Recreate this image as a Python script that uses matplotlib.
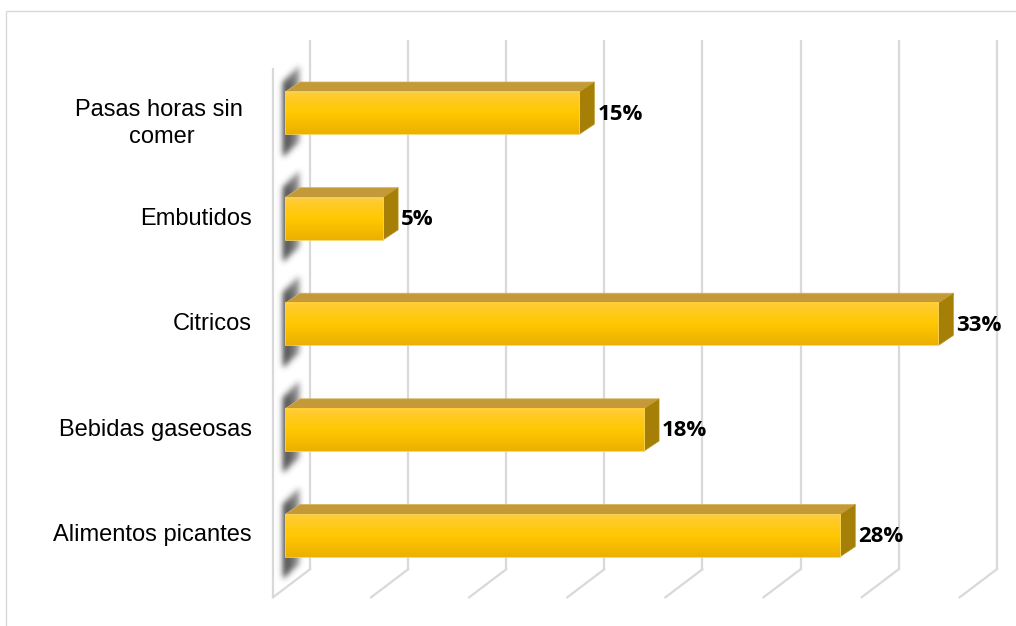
import numpy as np
import matplotlib
matplotlib.use('Agg')
import matplotlib.pyplot as plt
from matplotlib.patches import Polygon, Rectangle
from matplotlib.colors import LinearSegmentedColormap

# Categories bottom to top, shares in percent (labels show them rounded)
categories = ['Alimentos picantes', 'Bebidas gaseosas', 'Citricos', 'Embutidos', 'Pasas horas sin \ncomer']
values = [28.3, 18.3, 33.3, 5.0, 15.0]
xmax = 35
xticks = [0, 5, 10, 15, 20, 25, 30, 35]

W, H = 1016, 626
fig = plt.figure(figsize=(W / 100, H / 100), dpi=100)

# outer chart frame (light gray)
fig.patches.append(Rectangle((6 / W, -0.05), 1.2, (H - 11) / H + 0.05, transform=fig.transFigure,
                             fill=False, ec='#d9d9d9', lw=1.0))

# axes = plane of the bar fronts
ax_l, ax_r = 285, 971.7
ax_t, ax_b = 60.3, 588.3
ax = fig.add_axes([ax_l / W, (H - ax_b) / H, (ax_r - ax_l) / W, (ax_b - ax_t) / H])
ax.set_xlim(0, xmax)
ax.set_ylim(-0.5, len(categories) - 0.5)
ax.axis('off')

# pixel -> data units
sx = xmax / (ax_r - ax_l)
sy = len(categories) / (ax_b - ax_t)


def off(x, y, dx, dy):
    return (x + dx * sx, y + dy * sy)


back = (25, 19)     # back wall
front = (-12, -9)   # front edge of the floor
depth = (15, 10)    # bar depth
grid_c = '#d9d9d9'
y0, y1 = -0.5, len(categories) - 0.5

# back wall gridlines and floor lines
for v in xticks:
    bx0 = off(v, y0, *back)
    bx1 = off(v, y1, *back)
    fx = off(v, y0, *front)
    ax.plot([bx0[0], bx1[0]], [bx0[1], bx1[1]], color=grid_c, lw=1.6, clip_on=False, zorder=1)
    ax.plot([fx[0], bx0[0]], [fx[1], bx0[1]], color=grid_c, lw=1.6, clip_on=False, zorder=1)

# left wall front edge
p0 = off(0, y0, *front)
p1 = off(0, y1, *front)
ax.plot([p0[0], p1[0]], [p0[1], p1[1]], color=grid_c, lw=1.6, clip_on=False, zorder=1)

grad = LinearSegmentedColormap.from_list('bar', ['#ECB000', '#FFC800', '#FFCC38'])
gimg = np.linspace(0, 1, 64)[:, None]
h = 0.2
hpx = h / sy  # half bar height in pixels

# blurred shadow sprite, in pixel offsets from the bar's front-left centre
u = np.arange(-14, 32)
w = np.arange(-64, 65)[::-1]
U, Wg = np.meshgrid(u, w)
mask = ((U >= -2) & (U <= 14) &
        (Wg <= hpx + 12 + 1.0 * U) & (Wg >= -hpx - 20 + 0.9 * U)).astype(float)
kern = np.exp(-0.5 * (np.arange(-10, 11) / 3.0) ** 2)
kern /= kern.sum()
mask = np.apply_along_axis(lambda r: np.convolve(r, kern, mode='same'), 1, mask)
mask = np.apply_along_axis(lambda c: np.convolve(c, kern, mode='same'), 0, mask)
fade = np.clip(1 - 0.5 * (U + 2) / 16, 0.35, 1)
shadow = np.zeros(mask.shape + (4,))
shadow[..., :3] = 0.2
shadow[..., 3] = np.clip(mask * fade * 0.95, 0, 1)

for k, v in enumerate(values):
    # soft shadow on the left wall
    sl, sb = off(0, k, u[0] - 0.5, w[-1] - 0.5)
    sr, st = off(0, k, u[-1] + 0.5, w[0] + 0.5)
    im = ax.imshow(shadow, extent=[sl, sr, sb, st], aspect='auto', zorder=2,
                   interpolation='bilinear')
    im.set_clip_on(False)

    # front face with vertical gradient
    ax.imshow(gimg, cmap=grad, extent=[0, v, k - h, k + h], aspect='auto',
              origin='lower', zorder=4, interpolation='bilinear')
    # top face
    top = [(0, k + h), (v, k + h), off(v, k + h, *depth), off(0, k + h, *depth)]
    ax.add_patch(Polygon(top, closed=True, fc='#C49A38', ec='#d9b45a', lw=0.5, clip_on=False, zorder=3))
    # right side face
    side = [(v, k - h), (v, k + h), off(v, k + h, *depth), off(v, k - h, *depth)]
    ax.add_patch(Polygon(side, closed=True, fc='#A57F06', ec='#b89520', lw=0.5, clip_on=False, zorder=3))
    ax.add_patch(Rectangle((0, k - h), v, 2 * h, fill=False, ec='#f5d35a', lw=0.6, zorder=5))

    # value label
    lx, ly = off(v, k, 18, -1)
    ax.text(lx, ly, f'{v:.0f}%', ha='left', va='center', fontsize=16, fontweight='bold',
            family=['Open Sans', 'DejaVu Sans'], color='black', clip_on=False)

# category labels
for k, c in enumerate(categories):
    if '\n' in c:
        lx, ly = off(0, k, -123, -10)
        ax.text(lx, ly, c, ha='center', va='center', multialignment='center', fontsize=17,
                family=['Liberation Sans', 'DejaVu Sans'], linespacing=1.3)
    else:
        lx, ly = off(0, k, -33, 0)
        ax.text(lx, ly, c, ha='right', va='center', fontsize=17,
                family=['Liberation Sans', 'DejaVu Sans'])

ax.set_xlim(0, xmax)
ax.set_ylim(y0, y1)
fig.savefig('out.png', dpi=100)
